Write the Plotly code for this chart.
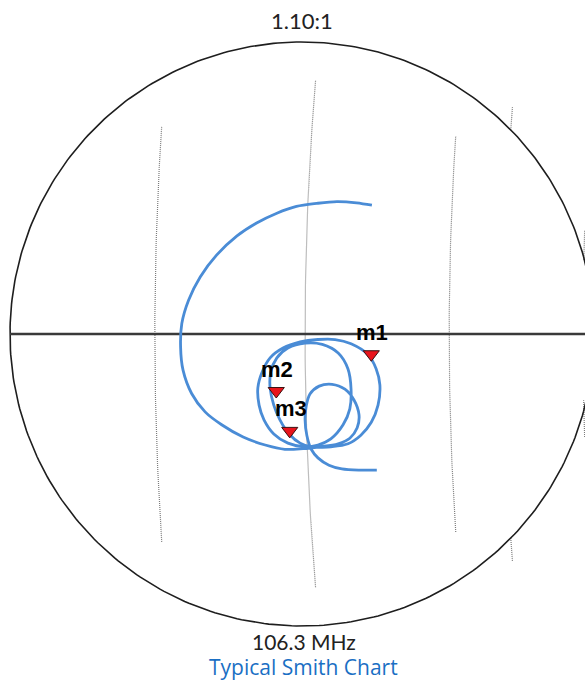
import numpy as np
import plotly.graph_objects as go

# ---------------- data ----------------
vswr_ratio = 1.10                 # outer circle = VSWR 1.10:1
top_label = "1.10:1"
freq_label = "106.3 MHz"
chart_title = "Typical Smith Chart"

# reflection coefficient trace (real / imaginary parts of Gamma)
gamma_re = [0.0114, 0.0089, 0.0057, 0.0024, -0.0009, -0.0041, -0.0074, -0.0106, -0.0139, -0.0166,
            -0.0185, -0.0196, -0.0198, -0.0194, -0.0180, -0.0158, -0.0131, -0.0096, -0.0060, -0.0028,
            0.0002,
            0.0024, 0.0047, 0.0075, 0.0096, 0.0113, 0.0124, 0.0127, 0.0121, 0.0108, 0.0080,
            0.0054, 0.0026, -0.0003, -0.0031, -0.0052, -0.0065, -0.0072, -0.0070, -0.0062, -0.0046,
            -0.0023, 0.0005,
            0.0026, 0.0047, 0.0067, 0.0078, 0.0080, 0.0075, 0.0059, 0.0033, 0.0005, -0.0023,
            -0.0041, -0.0051, -0.0052, -0.0046, -0.0036, -0.0021, -0.0003, 0.0015,
            0.0036, 0.0059, 0.0078, 0.0090, 0.0093, 0.0085, 0.0070, 0.0049, 0.0028, 0.0013,
            0.0007, 0.0005, 0.0008, 0.0015, 0.0026, 0.0044, 0.0065, 0.0095, 0.0122]
gamma_im = [0.0210, 0.0214, 0.0216, 0.0213, 0.0208, 0.0197, 0.0181, 0.0160, 0.0129, 0.0093,
            0.0055, 0.0017, -0.0021, -0.0059, -0.0097, -0.0127, -0.0148, -0.0168, -0.0181, -0.0188,
            -0.0187,
            -0.0185, -0.0184, -0.0179, -0.0165, -0.0144, -0.0116, -0.0083, -0.0057, -0.0034, -0.0016,
            -0.0009, -0.0009, -0.0013, -0.0023, -0.0039, -0.0062, -0.0088, -0.0116, -0.0140, -0.0163,
            -0.0178, -0.0184,
            -0.0181, -0.0171, -0.0148, -0.0122, -0.0090, -0.0057, -0.0031, -0.0017, -0.0015, -0.0023,
            -0.0039, -0.0062, -0.0088, -0.0116, -0.0140, -0.0163, -0.0178, -0.0184,
            -0.0183, -0.0179, -0.0170, -0.0153, -0.0132, -0.0108, -0.0090, -0.0082, -0.0085, -0.0098,
            -0.0117, -0.0140, -0.0166, -0.0188, -0.0202, -0.0214, -0.0220, -0.0222, -0.0222]

# markers
marker_names = ["m1", "m2", "m3"]
marker_re = [0.0113, -0.0042, -0.0020]
marker_im = [-0.0033, -0.0093, -0.0158]

# constant-resistance grid arcs: real-axis intercept and visible imaginary span
grid_intercept = [-0.0240, 0.0005, 0.0240, 0.0329, 0.0329, 0.0458, 0.0458]
grid_im_lo = [-0.0339, -0.0413, -0.0323, 0.0333, -0.0370, 0.0121, -0.0168]
grid_im_hi = [0.0339, 0.0413, 0.0323, 0.0370, -0.0331, 0.0170, -0.0108]

# ---------------- layout constants ----------------
W, H = 585, 683
CX, CY, R_PX = 302, 334, 292      # circle centre / radius in pixels
g_max = (vswr_ratio - 1) / (vswr_ratio + 1)
ppu = R_PX / g_max
x_range = [-CX / ppu, (W - CX) / ppu]
y_range = [-(H - CY) / ppu, CY / ppu]

fig = go.Figure()

# grid arcs
for g, lo, hi in zip(grid_intercept, grid_im_lo, grid_im_hi):
    rc = (1 - g) / 2
    c = g + rc
    h = np.linspace(lo, hi, 60)
    fig.add_trace(go.Scatter(x=c - np.sqrt(rc**2 - h**2), y=h, mode="lines",
                             line=dict(color="#7c7c7c", width=1.2, dash="1px,1px"),
                             hoverinfo="skip", showlegend=False))

# outer circle
t = np.linspace(0, 2 * np.pi, 400)
fig.add_trace(go.Scatter(x=g_max * np.cos(t), y=g_max * np.sin(t), mode="lines",
                         line=dict(color="#1e1e1e", width=1.6),
                         hoverinfo="skip", showlegend=False))
# real axis
fig.add_trace(go.Scatter(x=[-g_max, g_max], y=[0, 0], mode="lines",
                         line=dict(color="#3a3a3a", width=2.4),
                         hoverinfo="skip", showlegend=False))

# trace
fig.add_trace(go.Scatter(x=gamma_re, y=gamma_im, mode="lines",
                         line=dict(color="#4a8cd6", width=2.8, shape="spline", smoothing=0.9),
                         showlegend=False))

# markers
fig.add_trace(go.Scatter(x=marker_re, y=marker_im, mode="markers",
                         marker=dict(symbol="triangle-down", size=14, color="#e8141c",
                                     line=dict(color="#3a1010", width=1)),
                         showlegend=False))
for n, xr, yi in zip(marker_names, marker_re, marker_im):
    fig.add_annotation(x=xr, y=yi, text="<b>" + n + "</b>", showarrow=False, yshift=22, xshift=1,
                       xanchor="center", yanchor="middle",
                       font=dict(family="Liberation Sans, Arial", size=22, color="#000000"))

fig.add_annotation(x=CX / W, y=1 - 20 / H, xref="paper", yref="paper", text=top_label,
                   xanchor="center", yanchor="middle",
                   showarrow=False, font=dict(family="Lato", size=22, color="#222222"))
fig.add_annotation(x=304 / W, y=1 - 641 / H, xref="paper", yref="paper", text=freq_label,
                   xanchor="center", yanchor="middle",
                   showarrow=False, font=dict(family="Lato", size=21, color="#222222"))
fig.add_annotation(x=303 / W, y=1 - 667 / H, xref="paper", yref="paper", text=chart_title,
                   xanchor="center", yanchor="middle",
                   showarrow=False, font=dict(family="Open Sans", size=21, color="#1a6fc4"))

fig.update_layout(width=W, height=H, margin=dict(l=0, r=0, t=0, b=0),
                  paper_bgcolor="white", plot_bgcolor="white",
                  xaxis=dict(range=x_range, visible=False, fixedrange=True),
                  yaxis=dict(range=y_range, visible=False, fixedrange=True))

fig.write_html("out.html", config={"displayModeBar": False},
               post_script="document.body.style.margin='0';document.body.style.overflow='hidden';")
